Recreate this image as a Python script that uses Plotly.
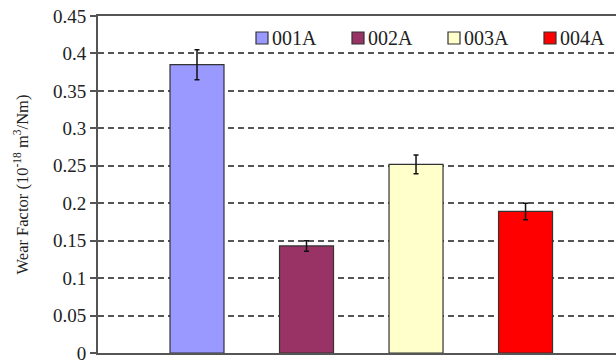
import plotly.graph_objects as go

# Wear factor per material (10^-18 m^3/Nm) with error bar half-widths
materials = ["001A", "002A", "003A", "004A"]
wear_factor = [0.385, 0.143, 0.252, 0.189]
wear_error = [0.020, 0.007, 0.0125, 0.011]
bar_colors = ["#9999FF", "#993366", "#FFFFCC", "#FF0000"]

y_ticks = [0, 0.05, 0.1, 0.15, 0.2, 0.25, 0.3, 0.35, 0.4, 0.45]
y_tick_text = ["0", "0.05", "0.1", "0.15", "0.2", "0.25", "0.3", "0.35", "0.4", "0.45"]

FONT = "Liberation Serif, Times New Roman, serif"
TEXT = "#222222"
AXIS = "#555555"

W, H = 616, 360
M_L, M_R, M_T, M_B = 98, 0, 16, 7
plot_w = W - M_L - M_R
plot_h = H - M_T - M_B

fig = go.Figure()
for i, (name, val, err, col) in enumerate(zip(materials, wear_factor, wear_error, bar_colors)):
    fig.add_trace(go.Bar(
        x=[i], y=[val], name=name, width=0.493, showlegend=False,
        marker=dict(color=col, line=dict(color="#333333", width=1.2)),
        error_y=dict(type="data", array=[err], visible=True,
                     color="#111111", thickness=1.5, width=2.5),
    ))

# Compact legend row: small framed swatch followed closely by the label
legend_left_px = 256      # left edge of first swatch, from figure left
legend_step_px = 96       # distance between successive entries
legend_cy_px = 38         # vertical centre of the row, from figure top
sw = 12                   # swatch size in px
shapes, annotations = [], []
cy = (H - M_B - legend_cy_px) / plot_h
for i, (name, col) in enumerate(zip(materials, bar_colors)):
    x0_px = legend_left_px + i * legend_step_px
    x0 = (x0_px - M_L) / plot_w
    x1 = (x0_px + sw - M_L) / plot_w
    shapes.append(dict(type="rect", xref="paper", yref="paper",
                       x0=x0, x1=x1, y0=cy - sw / 2 / plot_h, y1=cy + sw / 2 / plot_h,
                       fillcolor=col, line=dict(color="#333333", width=1.2)))
    annotations.append(dict(xref="paper", yref="paper", x=(x0_px + sw + 2 - M_L) / plot_w,
                            y=cy, xanchor="left", yanchor="middle", showarrow=False,
                            text=name, font=dict(family=FONT, size=20, color=TEXT)))

fig.update_layout(
    width=W, height=H,
    margin=dict(l=M_L, r=M_R, t=M_T, b=M_B, autoexpand=False),
    paper_bgcolor="white", plot_bgcolor="white",
    barmode="overlay",
    font=dict(family=FONT, size=19, color=TEXT),
    showlegend=False,
    shapes=shapes, annotations=annotations,
    xaxis=dict(range=[-0.904, 3.826], showticklabels=False, ticks="",
               showgrid=False, zeroline=False, showline=True, mirror=True,
               linecolor=AXIS, linewidth=2, fixedrange=True, automargin=False),
    yaxis=dict(range=[0, 0.45], tickvals=y_ticks, ticktext=y_tick_text,
               ticks="outside", ticklen=6, tickwidth=2, tickcolor=AXIS,
               ticklabeloverflow="allow", automargin=False,
               showline=True, linecolor=AXIS, linewidth=2,
               showgrid=True, gridcolor=AXIS, gridwidth=2, griddash="6px,4px",
               zeroline=False,
               title=dict(text="Wear Factor (10<sup>-18</sup> m<sup>3</sup>/Nm)",
                          font=dict(family=FONT, size=16.5, color=TEXT), standoff=20)),
)

fig.write_html("out.html")
